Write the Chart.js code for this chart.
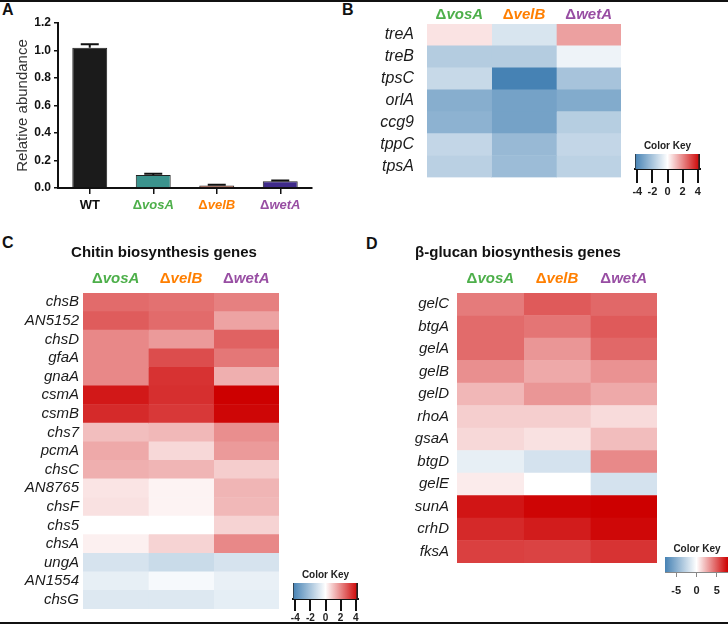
<!DOCTYPE html>
<html>
<head>
<meta charset="utf-8">
<script src="https://cdn.jsdelivr.net/npm/chart.js@4.4.1/dist/chart.umd.min.js"></script>
<style>
  body { margin: 0; background: #fff; }
  #wrap { position: relative; width: 728px; height: 625px; overflow: hidden; font-family: "Liberation Sans", Arial, sans-serif; }
  canvas { position: absolute; }
  .letter { position: absolute; font-weight: bold; font-size: 16px; line-height: 16px; color: #111; }
  .rule { position: absolute; left: 0; width: 728px; height: 2px; background: #111; }
</style>
</head>
<body>
<div id="wrap">
  <div class="rule" style="top:0"></div>
  <div class="rule" style="top:622px"></div>
  <div class="letter" style="left:2px;top:2px">A</div>
  <div class="letter" style="left:342px;top:2px">B</div>
  <div class="letter" style="left:2px;top:235px">C</div>
  <div class="letter" style="left:366px;top:236px">D</div>

  <canvas id="barA" width="330" height="215" style="left:0;top:0"></canvas>
  <canvas id="heatB" width="270" height="200" style="left:360px;top:0"></canvas>
  <canvas id="keyB" width="85" height="60" style="left:625px;top:138px"></canvas>
  <canvas id="heatC" width="290" height="392" style="left:0;top:230px"></canvas>
  <canvas id="keyC" width="85" height="58" style="left:283px;top:565px"></canvas>
  <canvas id="heatD" width="310" height="350" style="left:360px;top:230px"></canvas>
  <canvas id="keyD" width="73" height="60" style="left:655px;top:540px"></canvas>
</div>

<script>
const family = '"Liberation Sans", Arial, sans-serif';
Chart.defaults.font.family = family;

// panel A
const strains = ['WT', 'ΔvosA', 'ΔvelB', 'ΔwetA'];
const abundance = [1.02, 0.095, 0.018, 0.05];
const abundanceErr = [0.025, 0.008, 0.005, 0.004];
const yTicksA = [0, 0.2, 0.4, 0.6, 0.8, 1.0, 1.2];

// heatmap columns
const mutants = ['ΔvosA', 'ΔvelB', 'ΔwetA'];

// panel B (trehalose genes)
const genesB = ['treA', 'treB', 'tpsC', 'orlA', 'ccg9', 'tppC', 'tpsA'];
const vosA_B = [0.47, -1.75, -1.3, -2.8, -2.65, -1.4, -1.6];
const velB_B = [-0.9, -1.75, -4.3, -3.2, -3.2, -2.4, -2.3];
const wetA_B = [1.6, -0.4, -2.05, -2.9, -1.7, -1.4, -1.55];

// panel C (chitin)
const genesC = ['chsB', 'AN5152', 'chsD', 'gfaA', 'gnaA', 'csmA', 'csmB', 'chs7', 'pcmA',
  'chsC', 'AN8765', 'chsF', 'chs5', 'chsA', 'ungA', 'AN1554', 'chsG'];
const vosA_C = [2.5, 2.75, 2.0, 2.0, 2.0, 3.9, 3.6, 1.1, 1.45, 1.35, 0.45, 0.5, 0.0, 0.25, -0.95, -0.55, -0.8];
const velB_C = [2.4, 2.5, 1.7, 3.0, 3.45, 3.5, 3.35, 1.2, 0.65, 1.25, 0.2, 0.2, 0.0, 0.75, -1.25, -0.2, -0.8];
const wetA_C = [2.15, 1.55, 2.65, 2.3, 1.35, 4.3, 4.2, 1.9, 1.7, 0.85, 1.25, 1.2, 0.75, 2.0, -0.95, -0.5, -0.6];

// panel D (beta-glucan)
const genesD = ['gelC', 'btgA', 'gelA', 'gelB', 'gelD', 'rhoA', 'gsaA', 'btgD', 'gelE', 'sunA', 'crhD', 'fksA'];
const vosA_D = [4.0, 4.5, 4.5, 3.4, 2.2, 1.5, 1.2, -1.0, 0.6, 7.1, 6.5, 5.8];
const velB_D = [5.0, 4.2, 3.2, 2.6, 3.2, 1.5, 0.9, -1.8, 0.0, 7.6, 6.9, 5.7];
const wetA_D = [4.6, 5.0, 4.6, 3.3, 2.6, 1.1, 2.0, 3.6, -1.8, 7.75, 7.5, 6.2];

// colour keys
const keyTicksSmall = [-4, -2, 0, 2, 4];
const keyTicksLarge = [-5, 0, 5];

const strainColors = ['#111111', '#4daf4a', '#ff7f00', '#984ea3'];
const barColors = ['#1b1b1b', '#3b938d', '#b7573d', '#3f2b8a'];

function heatColor(v, lim) {
  let t = Math.max(-1, Math.min(1, v / lim));
  const end = t < 0 ? [70, 130, 180] : [205, 0, 0];
  t = Math.abs(t);
  const c = end.map(e => Math.round(255 + (e - 255) * t));
  return 'rgb(' + c.join(',') + ')';
}

// "Δ" upright, gene part in italics
function drawStrain(ctx, name, cx, cy, size, color) {
  ctx.save();
  ctx.fillStyle = color;
  ctx.textBaseline = 'middle';
  ctx.textAlign = 'left';
  const hasDelta = name.startsWith('Δ');
  const plain = hasDelta ? 'Δ' : name;
  const ital = hasDelta ? name.slice(1) : '';
  const fPlain = 'bold ' + size + 'px ' + family;
  const fItal = 'italic bold ' + size + 'px ' + family;
  ctx.font = fPlain;
  const w1 = ctx.measureText(plain).width;
  ctx.font = fItal;
  const w2 = ctx.measureText(ital).width;
  const x = cx - (w1 + w2) / 2;
  ctx.font = fPlain;
  ctx.fillText(plain, x, cy);
  ctx.font = fItal;
  ctx.fillText(ital, x + w1, cy);
  ctx.restore();
}

// ---- panel A ----
const errorBars = {
  id: 'errorBars',
  afterDatasetsDraw(chart) {
    const ctx = chart.ctx, y = chart.scales.y;
    chart.getDatasetMeta(0).data.forEach((bar, i) => {
      const top = y.getPixelForValue(abundance[i] + abundanceErr[i]);
      ctx.save();
      ctx.strokeStyle = '#111';
      ctx.lineWidth = 2;
      ctx.beginPath();
      ctx.moveTo(bar.x, bar.y);
      ctx.lineTo(bar.x, top);
      ctx.moveTo(bar.x - 9, top);
      ctx.lineTo(bar.x + 9, top);
      ctx.stroke();
      ctx.restore();
    });
  }
};

const strainLabels = {
  id: 'strainLabels',
  afterDraw(chart) {
    const xs = chart.scales.x;
    strains.forEach((s, i) => drawStrain(chart.ctx, s, xs.getPixelForValue(i), 205, 13, strainColors[i]));
  }
};

new Chart(document.getElementById('barA'), {
  type: 'bar',
  data: {
    labels: strains,
    datasets: [{
      data: abundance,
      backgroundColor: barColors,
      borderColor: '#222',
      borderWidth: 1,
      barPercentage: 0.55,
      categoryPercentage: 1
    }]
  },
  options: {
    responsive: false,
    animation: false,
    layout: { padding: { top: 23, right: 18, left: 0, bottom: 0 } },
    plugins: { legend: { display: false }, tooltip: { enabled: false } },
    scales: {
      x: {
        grid: { drawOnChartArea: false, offset: false, tickLength: 6, color: '#111', lineWidth: 1.5 },
        border: { color: '#111', width: 2 },
        ticks: { display: false },
        afterFit: s => { s.height = 27; }
      },
      y: {
        min: 0,
        max: 1.2,
        afterBuildTicks: s => { s.ticks = yTicksA.map(v => ({ value: v })); },
        ticks: { callback: v => v.toFixed(1), font: { size: 12, weight: 'bold' }, color: '#111', padding: 3 },
        grid: { drawOnChartArea: false, tickLength: 4, color: '#111', lineWidth: 1.5 },
        border: { color: '#111', width: 2 },
        title: { display: true, text: 'Relative abundance', font: { size: 15 }, color: '#333', padding: { top: 14 } },
        afterFit: s => { s.width = 58; }
      }
    }
  },
  plugins: [errorBars, strainLabels]
});

// ---- heatmaps ----
function heatmap(id, genes, cols, lim, o) {
  const headers = {
    id: 'headers',
    afterDraw(chart) {
      const ctx = chart.ctx, xs = chart.scales.x;
      mutants.forEach((m, i) => drawStrain(ctx, m, xs.getPixelForValue(i + 0.5), o.headerY, 15, strainColors[i + 1]));
      if (o.title) {
        ctx.save();
        ctx.font = 'bold 15px ' + family;
        ctx.fillStyle = '#111';
        ctx.textAlign = 'center';
        ctx.textBaseline = 'middle';
        ctx.fillText(o.title, o.titleX, o.titleY);
        ctx.restore();
      }
    }
  };
  new Chart(document.getElementById(id), {
    type: 'bar',
    data: {
      labels: genes,
      datasets: cols.map((vals, i) => ({
        label: mutants[i],
        data: genes.map(() => 1),
        backgroundColor: vals.map(v => heatColor(v, lim)),
        borderWidth: 0,
        barPercentage: 1,
        categoryPercentage: 1
      }))
    },
    options: {
      indexAxis: 'y',
      responsive: false,
      animation: false,
      layout: { padding: { left: 0, right: o.padRight, top: o.top, bottom: o.padBottom } },
      plugins: { legend: { display: false }, tooltip: { enabled: false } },
      scales: {
        x: { stacked: true, display: false, min: 0, max: 3 },
        y: {
          stacked: true,
          grid: { display: false, drawTicks: false },
          border: { display: false },
          ticks: { autoSkip: false, font: { size: o.labelSize, style: 'italic' }, color: '#1a1a1a', padding: o.labelPad },
          afterFit: s => { s.width = o.axisWidth; }
        }
      }
    },
    plugins: [headers]
  });
}

heatmap('heatB', genesB, [vosA_B, velB_B, wetA_B], 4.3,
  { top: 24, padBottom: 7, padRight: 9, axisWidth: 67, labelPad: 13, labelSize: 16, headerY: 15 });
heatmap('heatC', genesC, [vosA_C, velB_C, wetA_C], 4.3,
  { top: 63, padBottom: 0, padRight: 11, axisWidth: 83, labelPad: 4, labelSize: 15, headerY: 49,
    title: 'Chitin biosynthesis genes', titleX: 164, titleY: 23 });
heatmap('heatD', genesD, [vosA_D, velB_D, wetA_D], 7.75,
  { top: 63, padBottom: 8, padRight: 13, axisWidth: 97, labelPad: 8, labelSize: 15, headerY: 49,
    title: 'β-glucan biosynthesis genes', titleX: 158, titleY: 23 });

// ---- colour keys ----
function colorKey(id, lim, tickVals, o) {
  const keyTitle = {
    id: 'keyTitle',
    afterDraw(chart) {
      const ctx = chart.ctx, ca = chart.chartArea;
      ctx.save();
      ctx.font = 'bold 10px ' + family;
      ctx.fillStyle = '#222';
      ctx.textAlign = 'center';
      ctx.textBaseline = 'middle';
      ctx.fillText('Color Key', o.titleX || (ca.left + ca.right) / 2, ca.top - 8);
      ctx.restore();
    }
  };
  new Chart(document.getElementById(id), {
    type: 'bar',
    data: {
      labels: ['key'],
      datasets: [{
        data: [[-lim, lim]],
        backgroundColor: c => {
          const ca = c.chart.chartArea;
          if (!ca) return '#fff';
          const g = c.chart.ctx.createLinearGradient(ca.left, 0, ca.right, 0);
          g.addColorStop(0, heatColor(-lim, lim));
          g.addColorStop(0.5, '#fff');
          g.addColorStop(1, heatColor(lim, lim));
          return g;
        },
        borderColor: o.edge,
        borderWidth: o.edgeWidth,
        borderSkipped: false,
        barPercentage: 1,
        categoryPercentage: 1
      }]
    },
    options: {
      indexAxis: 'y',
      responsive: false,
      animation: false,
      layout: { padding: { left: o.padLeft, right: o.padRight, top: o.top, bottom: 0 } },
      plugins: { legend: { display: false }, tooltip: { enabled: false } },
      scales: {
        y: { display: false },
        x: {
          min: -lim,
          max: lim,
          afterBuildTicks: s => { s.ticks = tickVals.map(v => ({ value: v })); },
          ticks: { font: { size: o.fontSize, weight: 'bold' }, color: '#222', padding: o.labelPad },
          grid: { drawOnChartArea: false, tickLength: o.tickLength, color: o.tickColor, lineWidth: o.tickWidth },
          border: { color: o.tickColor, width: o.tickWidth },
          afterFit: s => { s.height = o.axisH; }
        }
      }
    },
    plugins: [keyTitle]
  });
}

colorKey('keyB', 4.3, keyTicksSmall, {
  padLeft: 10, padRight: 10, top: 16, axisH: 29, tickLength: 14, tickColor: '#111', tickWidth: 2,
  labelPad: 2, fontSize: 11, edge: '#222', edgeWidth: { left: 1, right: 2, top: 0, bottom: 0 } });
colorKey('keyC', 4.3, keyTicksSmall, {
  padLeft: 10, padRight: 10, top: 18, axisH: 24, tickLength: 12, tickColor: '#111', tickWidth: 2,
  labelPad: 1, fontSize: 10, edge: '#222', edgeWidth: { left: 1, right: 2, top: 0, bottom: 0 } });
colorKey('keyD', 7.75, keyTicksLarge, {
  padLeft: 10, padRight: 0, top: 17, axisH: 28, tickLength: 5, tickColor: '#888', tickWidth: 1,
  labelPad: 7, fontSize: 11, edge: '#bbb', edgeWidth: 0, titleX: 42 });
</script>
</body>
</html>
